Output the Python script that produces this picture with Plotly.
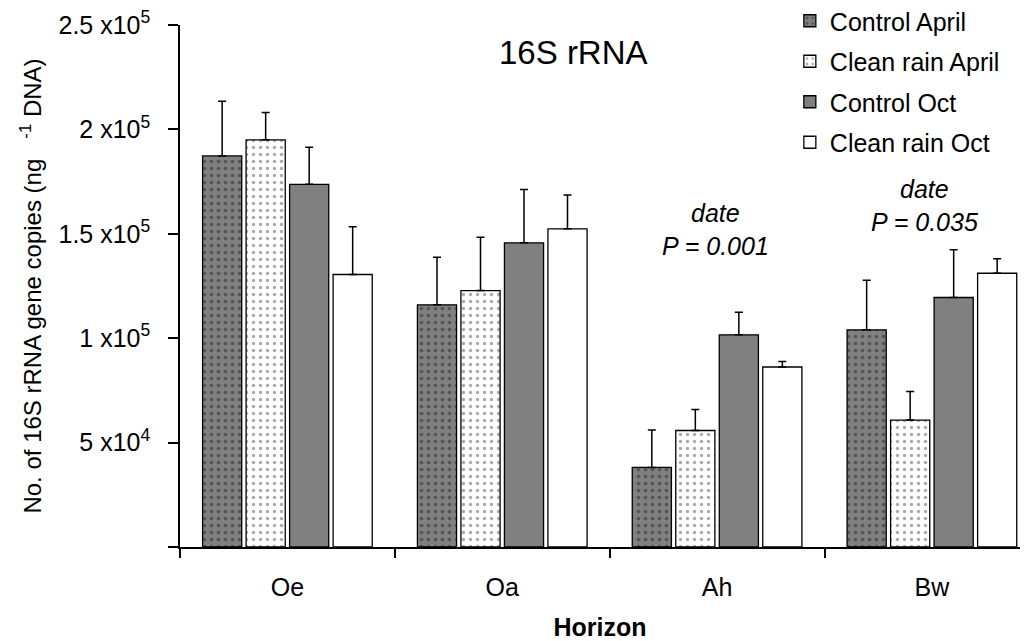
import plotly.graph_objects as go

horizons = ["Oe", "Oa", "Ah", "Bw"]
series = ["Control April", "Clean rain April", "Control Oct", "Clean rain Oct"]
control_april = [187300, 116000, 38100, 104000]
clean_april = [195000, 122800, 55800, 60800]
control_oct = [173700, 145700, 101600, 119500]
clean_oct = [130500, 152400, 86200, 131100]
err_control_april = [26200, 22800, 17900, 23800]
err_clean_april = [13100, 25500, 10100, 13700]
err_control_oct = [17800, 25500, 10800, 22900]
err_clean_oct = [22900, 16200, 2600, 6900]
ytick_vals = [50000, 100000, 150000, 200000, 250000]
ytick_text = ["5 x10<sup>4</sup>", "1 x10<sup>5</sup>", "1.5 x10<sup>5</sup>",
              "2 x10<sup>5</sup>", "2.5 x10<sup>5</sup>"]

values = [control_april, clean_april, control_oct, clean_oct]
errors = [err_control_april, err_clean_april, err_control_oct, err_clean_oct]
styles = [
    dict(color="#808080", pattern=dict(shape=".", bgcolor="#808080", fgcolor="#2a2a2a", size=7, solidity=0.22)),
    dict(color="white", pattern=dict(shape=".", bgcolor="white", fgcolor="#555555", size=7, solidity=0.18)),
    dict(color="#808080"),
    dict(color="white"),
]

FONT = "Liberation Sans"
fig = go.Figure()
for name, vals, errs, st in zip(series, values, errors, styles):
    fig.add_trace(go.Bar(
        x=horizons, y=vals, name=name, legendgroup=name,
        marker=dict(line=dict(color="black", width=1.3), **st),
        error_y=dict(type="data", array=errs, arrayminus=[0] * len(errs), symmetric=False,
                     color="black", thickness=1.5, width=4),
    ))

# the page body adds an 8px margin, so the figure is 8px smaller than the window on each side
fig.update_layout(
    width=1020, height=633, autosize=False,
    paper_bgcolor="white", plot_bgcolor="white",
    margin=dict(l=172, r=8, t=17, b=94, autoexpand=False),
    barmode="group", bargap=0.19, bargroupgap=0.1,
    font=dict(family=FONT, size=25, color="black"),
    showlegend=True,
    legend=dict(x=0.726, y=1.0517, xanchor="left", yanchor="top", bgcolor="rgba(0,0,0,0)",
                font=dict(family=FONT, size=25), itemwidth=30, tracegroupgap=5),
    xaxis=dict(range=[-0.5, 3.41], showline=True, linecolor="black", linewidth=1.5,
               ticks="outside", tickson="boundaries", ticklen=9, tickcolor="black", tickwidth=1.5,
               tickfont=dict(family=FONT, size=25), ticklabelstandoff=17, showgrid=False,
               automargin=False,
               title=dict(text="<b>Horizon</b>", font=dict(family=FONT, size=25), standoff=23)),
    yaxis=dict(range=[0, 250000.5], showline=True, linecolor="black", linewidth=1.5,
               tickvals=[0] + ytick_vals, ticktext=[""] + ytick_text,
               ticks="outside", ticklen=10, tickcolor="black", tickwidth=1.5,
               tickfont=dict(family=FONT, size=25), ticklabelstandoff=13,
               ticklabeloverflow="allow",
               showgrid=False, zeroline=False, automargin=False,
               title=dict(text="No. of 16S rRNA gene copies (ng&nbsp;&nbsp; <sup>-1</sup> DNA)",
                          font=dict(family=FONT, size=24), standoff=10)),
)

fig.add_annotation(text="16S rRNA", xref="paper", yref="paper", x=0.469, y=0.948,
                   xanchor="center", yanchor="middle", showarrow=False,
                   font=dict(family=FONT, size=33))
fig.add_annotation(text="<i>date</i><br><i>P = 0.001</i>", x="Ah", y=152000, xref="x", yref="y",
                   xshift=-2, showarrow=False, font=dict(family=FONT, size=25),
                   align="center", yanchor="middle")
fig.add_annotation(text="<i>date</i><br><i>P = 0.035</i>", x="Bw", y=163600, xref="x", yref="y",
                   xshift=-7, showarrow=False, font=dict(family=FONT, size=25),
                   align="center", yanchor="middle")

fig.write_html("out.html")
